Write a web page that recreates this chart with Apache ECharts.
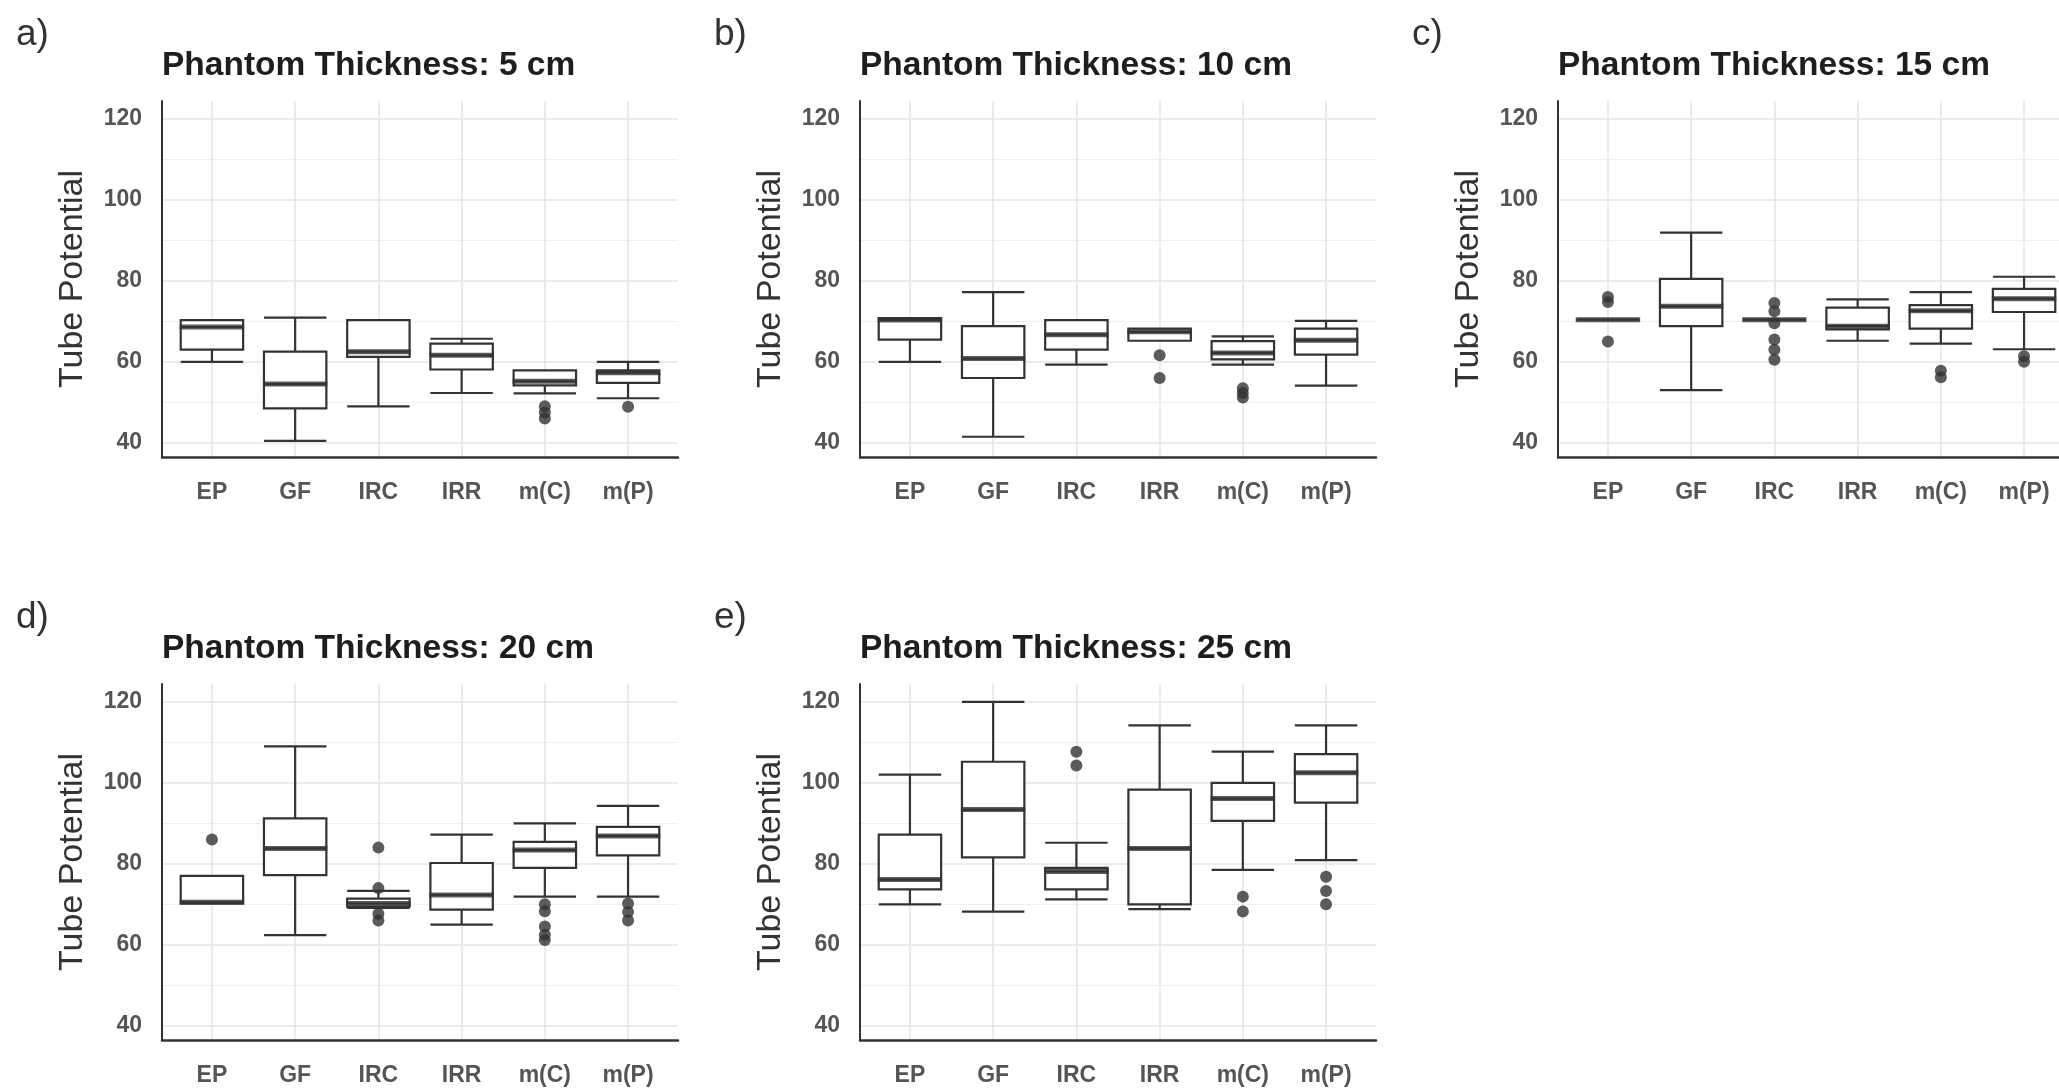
<!DOCTYPE html>
<html>
<head>
<meta charset="UTF-8">
<script src="https://cdn.jsdelivr.net/npm/echarts@6/dist/echarts.min.js"></script>
<style>
  html, body { margin: 0; padding: 0; background: #fff; }
  #chart { width: 2059px; height: 1089px; }
</style>
</head>
<body>
<div id="chart"></div>
<script>
// categories on every panel
var categories = ['EP', 'GF', 'IRC', 'IRR', 'm(C)', 'm(P)'];
var panelTitles = ['Phantom Thickness: 5 cm', 'Phantom Thickness: 10 cm', 'Phantom Thickness: 15 cm',
                   'Phantom Thickness: 20 cm', 'Phantom Thickness: 25 cm'];
var panelTags = ['a)', 'b)', 'c)', 'd)', 'e)'];

// [min, Q1, median, Q3, max] per category
var box5  = [[60, 63, 68.6, 70.3, 70.3], [40.5, 48.5, 54.5, 62.5, 70.9], [49, 61.2, 62.5, 70.3, 70.3],
             [52.3, 58.1, 61.6, 64.5, 65.7], [52.2, 54.2, 55.2, 57.9, 57.9], [51, 54.8, 57.3, 57.9, 60]];
var box10 = [[60, 65.5, 70.3, 70.8, 70.8], [41.5, 56, 60.8, 68.8, 77.2], [59.3, 63, 66.7, 70.3, 70.3],
             [65.2, 65.2, 67.4, 68.2, 68.2], [59.3, 60.6, 62.2, 65.1, 66.3], [54.1, 61.8, 65.3, 68.2, 70.1]];
var box15 = [[70.4, 70.4, 70.4, 70.4, 70.4], [53, 68.8, 73.7, 80.5, 91.9], [70.4, 70.4, 70.4, 70.4, 70.4],
             [65.2, 68, 68.8, 73.4, 75.4], [64.5, 68.2, 72.6, 74, 77.2], [63.1, 72.3, 75.6, 78, 81]];
var box20 = [[70.2, 70.2, 70.5, 77, 77], [62.4, 77.2, 83.8, 91.2, 109], [69.1, 69.4, 70.2, 71.4, 73.3],
             [65, 68.7, 72.3, 80.2, 87.2], [71.9, 79, 83.4, 85.4, 90], [71.9, 82.1, 86.9, 89.1, 94.3]];
var box25 = [[70, 73.7, 76.1, 87.2, 102], [68.2, 81.6, 93.4, 105.2, 120], [71.2, 73.7, 78.1, 79, 85.2],
             [68.8, 70, 83.8, 98.3, 114.2], [78.5, 90.6, 96.1, 100, 107.7], [80.9, 95.1, 102.5, 107.1, 114.2]];

// outliers: [category index, value]
var out5  = [[4, 49], [4, 47.5], [4, 46], [5, 48.9]];
var out10 = [[3, 61.6], [3, 56], [4, 53.5], [4, 52.3], [4, 51.2]];
var out15 = [[0, 76], [0, 74.8], [0, 65], [2, 74.5], [2, 72.5], [2, 69.5], [2, 65.5], [2, 63], [2, 60.5],
             [4, 57.8], [4, 56.2], [5, 61.4], [5, 60]];
var out20 = [[0, 86], [2, 84], [2, 74], [2, 67.7], [2, 66], [4, 70], [4, 68.3], [4, 64.5], [4, 62.5], [4, 61.2],
             [5, 70.2], [5, 68.1], [5, 66]];
var out25 = [[2, 107.7], [2, 104.3], [4, 71.9], [4, 68.2], [5, 76.8], [5, 73.3], [5, 70]];

var boxes = [box5, box10, box15, box20, box25];
var outliers = [out5, out10, out15, out20, out25];

var yMin = 36.5, yMax = 124.4;

// layout
var PW = 516, PH = 356;
var lefts = [162, 860, 1558, 162, 860];
var tops = [101, 101, 101, 684, 684];
var bandPx = PW / 6.2;
var boxW = bandPx * 0.75;
var FONT = 'Liberation Sans, Arial, sans-serif';

var grids = [], xAxes = [], yAxes = [], series = [], graphics = [];

for (var i = 0; i < 5; i++) {
  grids.push({ left: lefts[i], top: tops[i], width: PW, height: PH, outerBoundsMode: 'none', containLabel: false });
  xAxes.push({
    type: 'value', gridIndex: i, min: -0.6, max: 5.6,
    axisLine: { show: true, onZero: false, lineStyle: { color: '#333', width: 2.5 } },
    axisTick: { show: false },
    axisLabel: {
      margin: 24, color: '#555', fontSize: 23, fontWeight: 'bold', fontFamily: FONT,
      showMinLabel: false, showMaxLabel: false,
      formatter: function (v) {
        var k = Math.round(v);
        return Math.abs(v - k) < 1e-6 && categories[k] !== undefined ? categories[k] : '';
      }
    },
    splitLine: { show: true, showMinLine: false, showMaxLine: false, lineStyle: { color: '#e5e5e5', width: 1.5 } }
  });
  yAxes.push({
    type: 'value', gridIndex: i, min: yMin, max: yMax,
    name: 'Tube Potential', nameLocation: 'middle', nameGap: 72,
    nameTextStyle: { fontSize: 34, color: '#333', fontFamily: FONT },
    axisLine: { show: true, onZero: false, lineStyle: { color: '#333', width: 2 } },
    axisTick: { show: false },
    axisLabel: { margin: 20, color: '#555', fontSize: 23, fontWeight: 'bold', fontFamily: FONT,
                 showMinLabel: false, showMaxLabel: false },
    splitLine: { show: true, showMinLine: false, showMaxLine: false, lineStyle: { color: '#e5e5e5', width: 1.5 } },
    minorTick: { show: false, splitNumber: 2 },
    minorSplitLine: { show: true, lineStyle: { color: '#efefef', width: 1 } }
  });

  var boxData = boxes[i].map(function (b, k) { return [k].concat(b); });
  series.push({
    type: 'boxplot', xAxisIndex: i, yAxisIndex: i,
    data: boxData,
    boxWidth: [boxW, boxW],
    itemStyle: { color: '#fff', borderColor: '#333', borderWidth: 2.2 },
    emphasis: { disabled: true }
  });
  series.push({
    type: 'scatter', xAxisIndex: i, yAxisIndex: i,
    data: boxes[i].map(function (b, k) { return [k, b[2]]; }),
    symbol: 'rect', symbolSize: [boxW + 2, 5],
    itemStyle: { color: '#333' }, z: 3
  });
  series.push({
    type: 'scatter', xAxisIndex: i, yAxisIndex: i,
    data: outliers[i],
    symbol: 'circle', symbolSize: 12,
    itemStyle: { color: '#333' }, z: 4
  });

  graphics.push({
    type: 'text', x: lefts[i], y: tops[i] - 35,
    style: { text: panelTitles[i], fill: '#1e1e1e', font: 'bold 33.5px ' + FONT, verticalAlign: 'middle' }
  });
  graphics.push({
    type: 'text', x: lefts[i] - 146, y: tops[i] - 66,
    style: { text: panelTags[i], fill: '#333', font: '37px ' + FONT, verticalAlign: 'middle' }
  });
}

var chart = echarts.init(document.getElementById('chart'));
chart.setOption({
  animation: false,
  backgroundColor: '#fff',
  grid: grids,
  xAxis: xAxes,
  yAxis: yAxes,
  series: series,
  graphic: graphics
});
</script>
</body>
</html>
